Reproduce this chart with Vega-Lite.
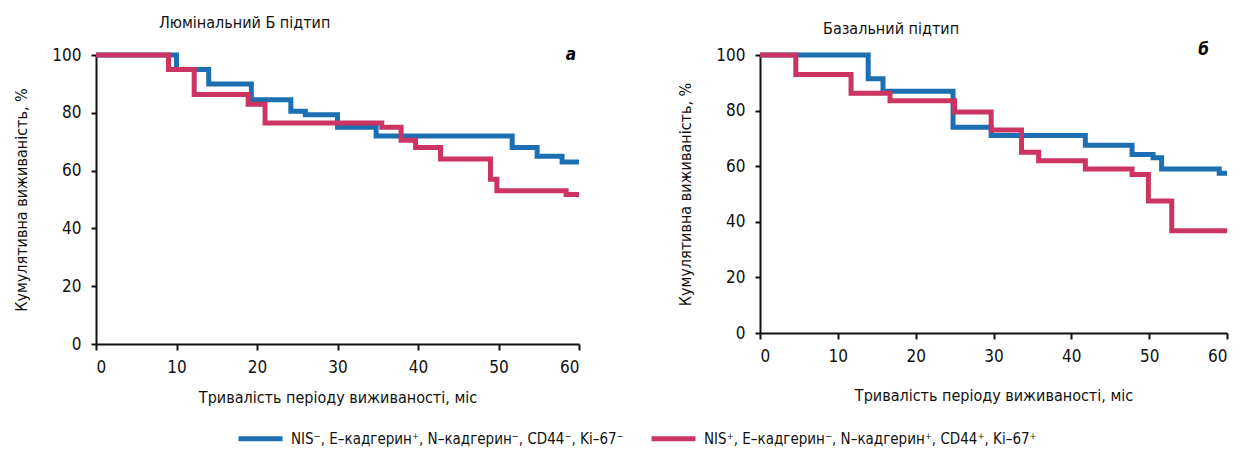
{
  "$schema": "https://vega.github.io/schema/vega-lite/v6.json",
  "padding": {"left": 13, "top": 15, "right": 5, "bottom": 5},
  "background": "white",
  "datasets": {
    "km": [
      {"panel": "L", "group": "NIS⁻, E–кадгерин⁺, N–кадгерин⁻, CD44⁻, Ki–67⁻", "t": 0, "s": 100},
      {"panel": "L", "group": "NIS⁻, E–кадгерин⁺, N–кадгерин⁻, CD44⁻, Ki–67⁻", "t": 10, "s": 95},
      {"panel": "L", "group": "NIS⁻, E–кадгерин⁺, N–кадгерин⁻, CD44⁻, Ki–67⁻", "t": 14, "s": 90},
      {"panel": "L", "group": "NIS⁻, E–кадгерин⁺, N–кадгерин⁻, CD44⁻, Ki–67⁻", "t": 19.3, "s": 84.5},
      {"panel": "L", "group": "NIS⁻, E–кадгерин⁺, N–кадгерин⁻, CD44⁻, Ki–67⁻", "t": 24.2, "s": 80.5},
      {"panel": "L", "group": "NIS⁻, E–кадгерин⁺, N–кадгерин⁻, CD44⁻, Ki–67⁻", "t": 26, "s": 79.3},
      {"panel": "L", "group": "NIS⁻, E–кадгерин⁺, N–кадгерин⁻, CD44⁻, Ki–67⁻", "t": 30, "s": 75},
      {"panel": "L", "group": "NIS⁻, E–кадгерин⁺, N–кадгерин⁻, CD44⁻, Ki–67⁻", "t": 34.8, "s": 72},
      {"panel": "L", "group": "NIS⁻, E–кадгерин⁺, N–кадгерин⁻, CD44⁻, Ki–67⁻", "t": 51.7, "s": 68},
      {"panel": "L", "group": "NIS⁻, E–кадгерин⁺, N–кадгерин⁻, CD44⁻, Ki–67⁻", "t": 54.8, "s": 65},
      {"panel": "L", "group": "NIS⁻, E–кадгерин⁺, N–кадгерин⁻, CD44⁻, Ki–67⁻", "t": 57.9, "s": 63},
      {"panel": "L", "group": "NIS⁻, E–кадгерин⁺, N–кадгерин⁻, CD44⁻, Ki–67⁻", "t": 60, "s": 63},
      {"panel": "L", "group": "NIS⁺, E–кадгерин⁻, N–кадгерин⁺, CD44⁺, Ki–67⁺", "t": 0, "s": 100},
      {"panel": "L", "group": "NIS⁺, E–кадгерин⁻, N–кадгерин⁺, CD44⁺, Ki–67⁺", "t": 9, "s": 95},
      {"panel": "L", "group": "NIS⁺, E–кадгерин⁻, N–кадгерин⁺, CD44⁺, Ki–67⁺", "t": 12.2, "s": 86.3},
      {"panel": "L", "group": "NIS⁺, E–кадгерин⁻, N–кадгерин⁺, CD44⁺, Ki–67⁺", "t": 18.9, "s": 83},
      {"panel": "L", "group": "NIS⁺, E–кадгерин⁻, N–кадгерин⁺, CD44⁺, Ki–67⁺", "t": 21, "s": 76.5},
      {"panel": "L", "group": "NIS⁺, E–кадгерин⁻, N–кадгерин⁺, CD44⁺, Ki–67⁺", "t": 35.5, "s": 75},
      {"panel": "L", "group": "NIS⁺, E–кадгерин⁻, N–кадгерин⁺, CD44⁺, Ki–67⁺", "t": 37.9, "s": 70.5},
      {"panel": "L", "group": "NIS⁺, E–кадгерин⁻, N–кадгерин⁺, CD44⁺, Ki–67⁺", "t": 39.7, "s": 68},
      {"panel": "L", "group": "NIS⁺, E–кадгерин⁻, N–кадгерин⁺, CD44⁺, Ki–67⁺", "t": 42.8, "s": 64},
      {"panel": "L", "group": "NIS⁺, E–кадгерин⁻, N–кадгерин⁺, CD44⁺, Ki–67⁺", "t": 49, "s": 57},
      {"panel": "L", "group": "NIS⁺, E–кадгерин⁻, N–кадгерин⁺, CD44⁺, Ki–67⁺", "t": 49.8, "s": 53},
      {"panel": "L", "group": "NIS⁺, E–кадгерин⁻, N–кадгерин⁺, CD44⁺, Ki–67⁺", "t": 58.4, "s": 51.7},
      {"panel": "L", "group": "NIS⁺, E–кадгерин⁻, N–кадгерин⁺, CD44⁺, Ki–67⁺", "t": 60, "s": 51.7},
      {"panel": "R", "group": "NIS⁻, E–кадгерин⁺, N–кадгерин⁻, CD44⁻, Ki–67⁻", "t": 0, "s": 100},
      {"panel": "R", "group": "NIS⁻, E–кадгерин⁺, N–кадгерин⁻, CD44⁻, Ki–67⁻", "t": 13.9, "s": 91.5},
      {"panel": "R", "group": "NIS⁻, E–кадгерин⁺, N–кадгерин⁻, CD44⁻, Ki–67⁻", "t": 15.8, "s": 87},
      {"panel": "R", "group": "NIS⁻, E–кадгерин⁺, N–кадгерин⁻, CD44⁻, Ki–67⁻", "t": 24.8, "s": 74},
      {"panel": "R", "group": "NIS⁻, E–кадгерин⁺, N–кадгерин⁻, CD44⁻, Ki–67⁻", "t": 29.7, "s": 71},
      {"panel": "R", "group": "NIS⁻, E–кадгерин⁺, N–кадгерин⁻, CD44⁻, Ki–67⁻", "t": 41.8, "s": 67.5},
      {"panel": "R", "group": "NIS⁻, E–кадгерин⁺, N–кадгерин⁻, CD44⁻, Ki–67⁻", "t": 47.8, "s": 64.2},
      {"panel": "R", "group": "NIS⁻, E–кадгерин⁺, N–кадгерин⁻, CD44⁻, Ki–67⁻", "t": 50.5, "s": 63},
      {"panel": "R", "group": "NIS⁻, E–кадгерин⁺, N–кадгерин⁻, CD44⁻, Ki–67⁻", "t": 51.6, "s": 59},
      {"panel": "R", "group": "NIS⁻, E–кадгерин⁺, N–кадгерин⁻, CD44⁻, Ki–67⁻", "t": 59, "s": 57.5},
      {"panel": "R", "group": "NIS⁻, E–кадгерин⁺, N–кадгерин⁻, CD44⁻, Ki–67⁻", "t": 60, "s": 57.5},
      {"panel": "R", "group": "NIS⁺, E–кадгерин⁻, N–кадгерин⁺, CD44⁺, Ki–67⁺", "t": 0, "s": 100},
      {"panel": "R", "group": "NIS⁺, E–кадгерин⁻, N–кадгерин⁺, CD44⁺, Ki–67⁺", "t": 4.6, "s": 93},
      {"panel": "R", "group": "NIS⁺, E–кадгерин⁻, N–кадгерин⁺, CD44⁺, Ki–67⁺", "t": 11.7, "s": 86.2},
      {"panel": "R", "group": "NIS⁺, E–кадгерин⁻, N–кадгерин⁺, CD44⁺, Ki–67⁺", "t": 16.7, "s": 83.5},
      {"panel": "R", "group": "NIS⁺, E–кадгерин⁻, N–кадгерин⁺, CD44⁺, Ki–67⁺", "t": 25, "s": 79.5},
      {"panel": "R", "group": "NIS⁺, E–кадгерин⁻, N–кадгерин⁺, CD44⁺, Ki–67⁺", "t": 29.7, "s": 73},
      {"panel": "R", "group": "NIS⁺, E–кадгерин⁻, N–кадгерин⁺, CD44⁺, Ki–67⁺", "t": 33.6, "s": 65},
      {"panel": "R", "group": "NIS⁺, E–кадгерин⁻, N–кадгерин⁺, CD44⁺, Ki–67⁺", "t": 35.8, "s": 62},
      {"panel": "R", "group": "NIS⁺, E–кадгерин⁻, N–кадгерин⁺, CD44⁺, Ki–67⁺", "t": 41.8, "s": 59},
      {"panel": "R", "group": "NIS⁺, E–кадгерин⁻, N–кадгерин⁺, CD44⁺, Ki–67⁺", "t": 47.8, "s": 57},
      {"panel": "R", "group": "NIS⁺, E–кадгерин⁻, N–кадгерин⁺, CD44⁺, Ki–67⁺", "t": 49.9, "s": 47.5},
      {"panel": "R", "group": "NIS⁺, E–кадгерин⁻, N–кадгерин⁺, CD44⁺, Ki–67⁺", "t": 52.9, "s": 36.8},
      {"panel": "R", "group": "NIS⁺, E–кадгерин⁻, N–кадгерин⁺, CD44⁺, Ki–67⁺", "t": 60, "s": 36.8}
    ]
  },
  "hconcat": [
    {
      "width": 483,
      "height": 289,
      "title": {"text": "Люмінальний Б підтип", "anchor": "start", "frame": "group", "dx": 63, "offset": 14},
      "layer": [
        {
          "data": {"name": "km"},
          "transform": [{"filter": "datum.panel === 'L'"}],
          "mark": {"type": "line", "interpolate": "step-after", "strokeWidth": 5},
          "encoding": {
            "x": {"field": "t", "type": "quantitative", "scale": {"domain": [0, 60], "nice": false}, "axis": {"values": [0, 10, 20, 30, 40, 50, 60], "title": "Тривалість періоду виживаності, міс", "titlePadding": 14}},
            "y": {"field": "s", "type": "quantitative", "scale": {"domain": [0, 100], "nice": false}, "axis": {"values": [0, 20, 40, 60, 80, 100], "title": "Кумулятивна виживаність, %"}},
            "color": {"field": "group", "type": "nominal",
              "scale": {"domain": ["NIS⁻, E–кадгерин⁺, N–кадгерин⁻, CD44⁻, Ki–67⁻", "NIS⁺, E–кадгерин⁻, N–кадгерин⁺, CD44⁺, Ki–67⁺"], "range": ["#1b6fb2", "#cc3462"]},
              "legend": {"title": "\u00a0", "titleOrient": "left", "titlePadding": 140}}
          }
        },
        {
          "data": {"values": [{"label": "а"}]},
          "mark": {"type": "text", "fontStyle": "italic", "fontWeight": "bold", "fontSize": 17, "align": "center", "baseline": "middle"},
          "encoding": {"x": {"datum": 59}, "y": {"datum": 100}, "text": {"field": "label"}}
        }
      ]
    },
    {
      "width": 467,
      "height": 278,
      "title": {"text": "Базальний підтип", "anchor": "start", "frame": "group", "dx": 63, "offset": 4},
      "layer": [
        {
          "data": {"name": "km"},
          "transform": [{"filter": "datum.panel === 'R'"}],
          "mark": {"type": "line", "interpolate": "step-after", "strokeWidth": 5},
          "encoding": {
            "x": {"field": "t", "type": "quantitative", "scale": {"domain": [0, 60], "nice": false}, "axis": {"values": [0, 10, 20, 30, 40, 50, 60], "title": "Тривалість періоду виживаності, міс", "titlePadding": 23}},
            "y": {"field": "s", "type": "quantitative", "scale": {"domain": [0, 100], "nice": false}, "axis": {"values": [0, 20, 40, 60, 80, 100], "title": "Кумулятивна виживаність, %"}},
            "color": {"field": "group", "type": "nominal",
              "scale": {"domain": ["NIS⁻, E–кадгерин⁺, N–кадгерин⁻, CD44⁻, Ki–67⁻", "NIS⁺, E–кадгерин⁻, N–кадгерин⁺, CD44⁺, Ki–67⁺"], "range": ["#1b6fb2", "#cc3462"]},
              "legend": {"title": "\u00a0", "titleOrient": "left", "titlePadding": 140}}
          }
        },
        {
          "data": {"values": [{"label": "б"}]},
          "mark": {"type": "text", "fontStyle": "italic", "fontWeight": "bold", "fontSize": 17, "align": "center", "baseline": "middle"},
          "encoding": {"x": {"datum": 57}, "y": {"datum": 101.8}, "text": {"field": "label"}}
        }
      ]
    }
  ],
  "spacing": 88,
  "config": {
    "view": {"stroke": null},
    "font": "DejaVu Sans Condensed, sans-serif",
    "title": {"font": "DejaVu Sans Condensed, sans-serif", "fontSize": 16, "fontWeight": "normal", "color": "#111"},
    "axis": {
      "grid": false,
      "domainColor": "#111",
      "domainWidth": 2,
      "tickColor": "#111",
      "tickWidth": 2,
      "tickSize": 5,
      "labelFont": "DejaVu Sans Condensed, sans-serif",
      "labelFontSize": 17,
      "labelColor": "#111",
      "titleFont": "DejaVu Sans Condensed, sans-serif",
      "titleFontSize": 16,
      "titleFontWeight": "normal",
      "titleColor": "#111"
    },
    "axisY": {"titlePadding": 22, "labelPadding": 10},
    "axisX": {"tickSize": 6, "labelPadding": 9},
    "legend": {
      "orient": "bottom",
      "direction": "horizontal",
      "titleFontSize": 15,
      "offset": 9,
      "symbolType": "stroke",
      "symbolStrokeWidth": 5,
      "symbolSize": 1936,
      "labelFont": "DejaVu Sans Condensed, sans-serif",
      "labelFontSize": 15,
      "labelColor": "#111",
      "labelLimit": 600,
      "labelOffset": 6,
      "columnPadding": 17
    }
  }
}
